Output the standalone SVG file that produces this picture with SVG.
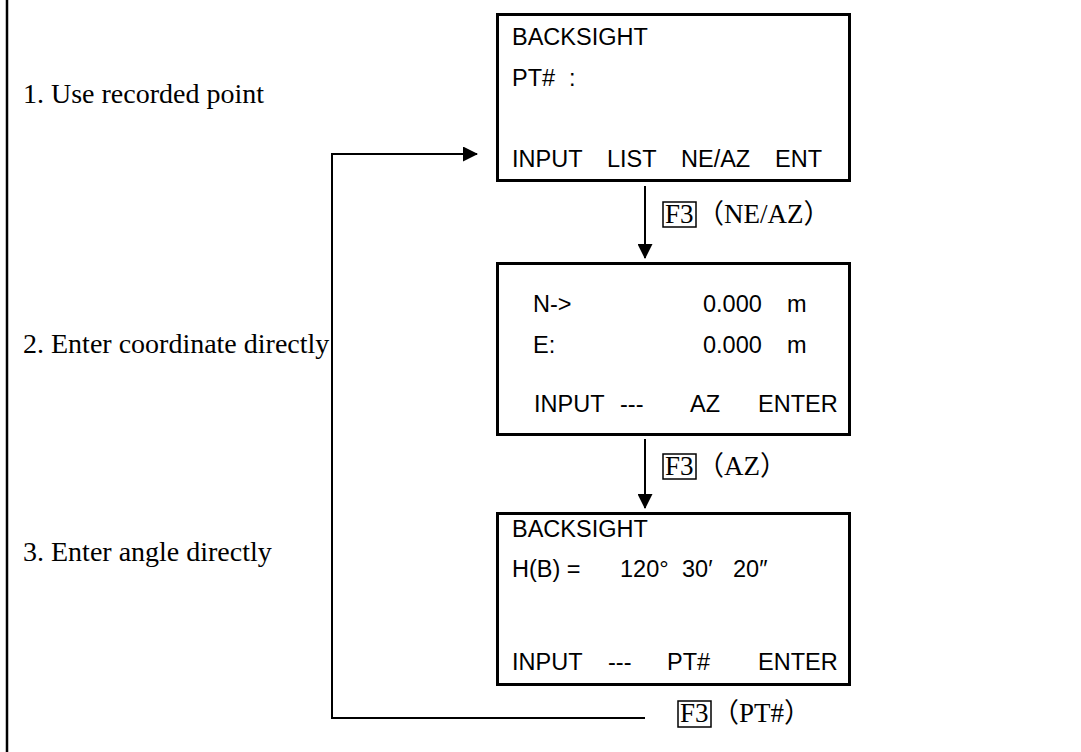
<svg xmlns="http://www.w3.org/2000/svg" width="1081" height="752" viewBox="0 0 1081 752">
<style>
.scr{fill:#fff;stroke:#000;stroke-width:3}
.st{font-family:"Liberation Sans",Arial,sans-serif;font-size:23.5px;fill:#000}
.lb{font-family:"Liberation Serif","Times New Roman",serif;font-size:28px;fill:#000}
.fk{font-family:"Liberation Serif","Times New Roman","Noto Sans CJK SC",serif;font-size:27px;fill:#000}
.ln{fill:none;stroke:#000;stroke-width:2}
.kb{fill:none;stroke:#000;stroke-width:1.5}
</style>
<defs>
<marker id="ah2" markerWidth="15" markerHeight="15" refX="14" refY="7.5" orient="auto" markerUnits="userSpaceOnUse" viewBox="0 0 15 15">
<path d="M0,0 L15,7.5 L0,15 Z" fill="#000"/>
</marker>
</defs>
<rect width="1081" height="752" fill="#fff"/>
<line x1="7" y1="0" x2="7" y2="752" stroke="#000" stroke-width="2.5"/>
<g id="labels">
<text class="lb" x="23" y="103">1. Use recorded point</text>
<text class="lb" x="23" y="353">2. Enter coordinate directly</text>
<text class="lb" x="23" y="561">3. Enter angle directly</text>
</g>
<g id="connectors">
<line class="ln" x1="645" y1="186" x2="645" y2="258" marker-end="url(#ah2)"/>
<line class="ln" x1="645" y1="439" x2="645" y2="508" marker-end="url(#ah2)"/>
<polyline class="ln" points="645,718 332,718 332,154 477,154" marker-end="url(#ah2)"/>
</g>
<g id="screen1">
<rect class="scr" x="497.5" y="14.5" width="352" height="166"/>
<text class="st" x="512" y="45">BACKSIGHT</text>
<text class="st" x="512" y="86">PT#</text>
<text class="st" x="569" y="86">:</text>
<text class="st" x="512" y="167">INPUT</text>
<text class="st" x="607" y="167">LIST</text>
<text class="st" x="681" y="167">NE/AZ</text>
<text class="st" x="775" y="167">ENT</text>
</g>
<g id="key1">
<rect class="kb" x="663" y="202" width="33" height="25"/>
<text class="fk" x="665" y="223">F3<tspan x="697">（NE/AZ）</tspan></text>
</g>
<g id="screen2">
<rect class="scr" x="497.5" y="263.5" width="352" height="171"/>
<text class="st" x="533" y="312">N-&gt;</text>
<text class="st" x="703" y="312">0.000</text>
<text class="st" x="787" y="312">m</text>
<text class="st" x="533" y="353">E:</text>
<text class="st" x="703" y="353">0.000</text>
<text class="st" x="787" y="353">m</text>
<text class="st" x="534" y="412">INPUT</text>
<text class="st" x="620" y="412">---</text>
<text class="st" x="690" y="412">AZ</text>
<text class="st" x="758" y="412">ENTER</text>
</g>
<g id="key2">
<rect class="kb" x="663" y="454" width="33" height="25"/>
<text class="fk" x="665" y="475">F3<tspan x="697">（AZ）</tspan></text>
</g>
<g id="screen3">
<rect class="scr" x="497.5" y="513.5" width="352" height="171"/>
<text class="st" x="512" y="537">BACKSIGHT</text>
<text class="st" x="512" y="577">H(B) =</text>
<text class="st" x="620" y="577">120°</text>
<text class="st" x="682" y="577">30′</text>
<text class="st" x="733" y="577">20″</text>
<text class="st" x="512" y="670">INPUT</text>
<text class="st" x="608" y="670">---</text>
<text class="st" x="667" y="670">PT#</text>
<text class="st" x="758" y="670">ENTER</text>
</g>
<g id="key3">
<rect class="kb" x="678" y="701" width="33" height="26"/>
<text class="fk" x="680" y="722">F3<tspan x="712">（PT#）</tspan></text>
</g>
</svg>
